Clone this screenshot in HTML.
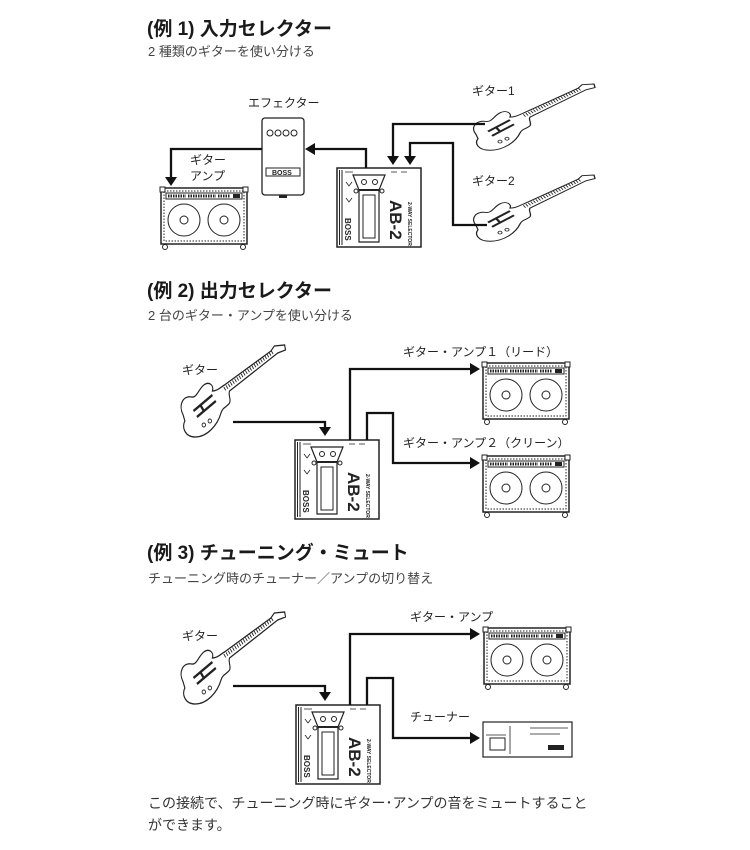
<!DOCTYPE html>
<html><head><meta charset="utf-8"><style>
body{margin:0;background:#fff;width:750px;height:850px;overflow:hidden}
svg{display:block}
.t{font-family:"Liberation Sans","Noto Sans CJK JP",sans-serif;font-weight:bold;font-size:19px;fill:#1a1a1a}
.s{font-family:"Liberation Sans","Noto Sans CJK JP",sans-serif;font-size:13px;fill:#444}
.l{font-family:"Liberation Sans","Noto Sans CJK JP",sans-serif;font-size:12px;fill:#222}
.b{font-family:"Liberation Sans","Noto Sans CJK JP",sans-serif;font-size:14px;fill:#333}
</style></head><body>
<svg width="750" height="850" viewBox="0 0 750 850" xmlns="http://www.w3.org/2000/svg">
<defs>
<g id="amp">
 <rect x="1" y="1" width="86" height="56" fill="#fff" stroke="#222" stroke-width="1.5"/>
 <rect x="4" y="4" width="80" height="50" fill="none" stroke="#222" stroke-width="1" stroke-dasharray="1.5,1.5"/>
 <rect x="6" y="6" width="76" height="6" fill="#fff" stroke="#222" stroke-width="1"/>
 <path d="M8 9h18M28 9h28M58 9h12" stroke="#222" stroke-width="3" stroke-dasharray="1.5,1"/>
 <rect x="73" y="7" width="7" height="4" fill="#222"/>
 <circle cx="24" cy="33" r="16" fill="none" stroke="#222" stroke-width="1"/>
 <circle cx="24" cy="33" r="4" fill="none" stroke="#222" stroke-width="1"/>
 <circle cx="64" cy="33" r="16" fill="none" stroke="#222" stroke-width="1"/>
 <circle cx="64" cy="33" r="4" fill="none" stroke="#222" stroke-width="1"/>
 <rect x="0" y="0" width="5" height="5" fill="#fff" stroke="#222"/>
 <rect x="83" y="0" width="5" height="5" fill="#fff" stroke="#222"/>
 <circle cx="5" cy="60" r="2.5" fill="#fff" stroke="#222"/>
 <circle cx="83" cy="60" r="2.5" fill="#fff" stroke="#222"/>
</g>
<g id="ab2">
 <rect x="0" y="0" width="84" height="79" fill="#fff" stroke="#222" stroke-width="1.5"/>
 <path d="M2.5 2v75M5 2v75" stroke="#222" stroke-width="1"/>
 <path d="M16 7h32l-6 15v52h-20v-52z" fill="#fff" stroke="#222" stroke-width="1.2"/>
 <path d="M22 22h20" stroke="#222" stroke-width="2"/>
 <rect x="26" y="27" width="12" height="43" fill="none" stroke="#222" stroke-width="1"/>
 <circle cx="27" cy="14" r="2.5" fill="none" stroke="#222"/>
 <circle cx="38" cy="14" r="2.5" fill="none" stroke="#222"/>
 <circle cx="19" cy="23" r="2" fill="none" stroke="#222"/>
 <circle cx="45" cy="23" r="2" fill="none" stroke="#222"/>
 <path d="M8 4h8M54 4h6M64 4h6M9 14l3 4l3-4M9 30l3 4l3-4" stroke="#222" stroke-width="0.8" fill="none"/>
 <text transform="translate(53,32) rotate(90)" font-family="Liberation Sans,sans-serif" font-weight="bold" font-size="17" fill="#222">AB-2</text>
 <text transform="translate(71,34) rotate(90)" font-family="Liberation Sans,sans-serif" font-weight="bold" font-size="5" fill="#222">2-WAY SELECTOR</text>
 <text transform="translate(8,50) rotate(90)" font-family="Liberation Sans,sans-serif" font-weight="bold" font-size="8" fill="#222">BOSS</text>
</g>
<g id="gtr">
 <path d="M6 70C0 60 6 50 16 52C22 53 24 44 30 40C36 36 42 40 40 46C46 46 50 42 54 40L108 6L112 1L124 0L125 5L116 8L60 46C58 50 62 54 60 58C57 62 52 62 50 68C46 80 34 92 20 92C8 92 4 82 8 76Z" fill="#fff" stroke="#222" stroke-width="1.3"/>
 <path d="M54 44L110 7" stroke="#222" stroke-width="4" stroke-dasharray="1,2"/>
 <path d="M18 66l22-16M22 72l22-16M26 60l4 6" stroke="#222" stroke-width="2.5"/>
 <circle cx="30" cy="80" r="2" fill="none" stroke="#222"/>
 <circle cx="37" cy="76" r="2" fill="none" stroke="#222"/>
</g>
</defs>

<!-- Section 1 -->
<text class="t" x="147" y="35">(例 1) 入力セレクター</text>
<text class="s" x="148" y="56">2 種類のギターを使い分ける</text>
<text class="l" x="248" y="107">エフェクター</text>
<text class="l" x="190" y="164">ギター</text>
<text class="l" x="190" y="180">アンプ</text>
<text class="l" x="472" y="95">ギター1</text>
<text class="l" x="472" y="185">ギター2</text>
<rect x="262" y="118" width="42" height="77" rx="3" fill="#fff" stroke="#222" stroke-width="1.3"/>
<g fill="none" stroke="#222"><circle cx="270" cy="133" r="3"/><circle cx="278" cy="133" r="3"/><circle cx="286" cy="133" r="3"/><circle cx="294" cy="133" r="3"/></g>
<rect x="266" y="168" width="34" height="8" fill="#fff" stroke="#222"/>
<text x="272" y="175" font-family="Liberation Sans,sans-serif" font-weight="bold" font-size="7" fill="#222">BOSS</text>
<rect x="279" y="195" width="8" height="3" fill="#222"/>
<use href="#amp" x="160" y="187"/>
<use href="#ab2" x="337" y="168"/>
<use href="#gtr" transform="translate(470,84) scale(1,0.72)"/>
<use href="#gtr" transform="translate(470,175) scale(1,0.72)"/>
<g fill="none" stroke="#111" stroke-width="2.3">
 <path d="M262 149H171V178"/>
 <path d="M366 168V149H315"/>
 <path d="M485 124H393V157"/>
 <path d="M487 225H453V143H410V157"/>
</g>
<g fill="#111">
 <path d="M165 177h12l-6 9z"/><path d="M305 149l10-6v12z"/>
 <path d="M387 156h12l-6 9z"/><path d="M404 156h12l-6 9z"/>
</g>

<!-- Section 2 -->
<text class="t" x="147" y="297">(例 2) 出力セレクター</text>
<text class="s" x="148" y="320">2 台のギター・アンプを使い分ける</text>
<text class="l" x="182" y="374">ギター</text>
<text class="l" x="403" y="356">ギター・アンプ１（リード）</text>
<text class="l" x="403" y="447">ギター・アンプ２（クリーン）</text>
<use href="#gtr" transform="translate(178,345) scale(0.86,1)"/>
<use href="#ab2" x="295" y="440"/>
<use href="#amp" x="482" y="362"/>
<use href="#amp" x="482" y="455"/>
<g fill="none" stroke="#111" stroke-width="2.3">
 <path d="M233 422H325V428"/>
 <path d="M350 440V369H470"/>
 <path d="M367 440V413H393V463H470"/>
</g>
<g fill="#111"><path d="M319 427h12l-6 9z"/><path d="M470 363l10 6l-10 6z"/><path d="M470 457l10 6l-10 6z"/></g>

<!-- Section 3 -->
<text class="t" x="147" y="559">(例 3) チューニング・ミュート</text>
<text class="s" x="148" y="583">チューニング時のチューナー／アンプの切り替え</text>
<text class="l" x="182" y="640">ギター</text>
<text class="l" x="410" y="621">ギター・アンプ</text>
<text class="l" x="410" y="721">チューナー</text>
<use href="#gtr" transform="translate(178,612) scale(0.86,1)"/>
<use href="#ab2" x="296" y="705"/>
<use href="#amp" x="483" y="627"/>
<rect x="483" y="722" width="89" height="35" fill="#fff" stroke="#222" stroke-width="1.2"/>
<path d="M510 726v28M486 735h20M530 728h38M530 734h30" stroke="#222" stroke-width="0.8" fill="none"/>
<rect x="490" y="738" width="15" height="12" fill="none" stroke="#222"/>
<rect x="548" y="745" width="16" height="5" fill="#222"/>
<g fill="none" stroke="#111" stroke-width="2.3">
 <path d="M233 686H325V692"/>
 <path d="M350 705V634H470"/>
 <path d="M367 705V678H393V738H470"/>
</g>
<g fill="#111"><path d="M319 692h12l-6 9z"/><path d="M470 628l10 6l-10 6z"/><path d="M470 732l10 6l-10 6z"/></g>

<text class="b" x="148" y="808">この接続で、チューニング時にギター･アンプの音をミュートすること</text>
<text class="b" x="148" y="830">ができます。</text>
</svg>
</body></html>
